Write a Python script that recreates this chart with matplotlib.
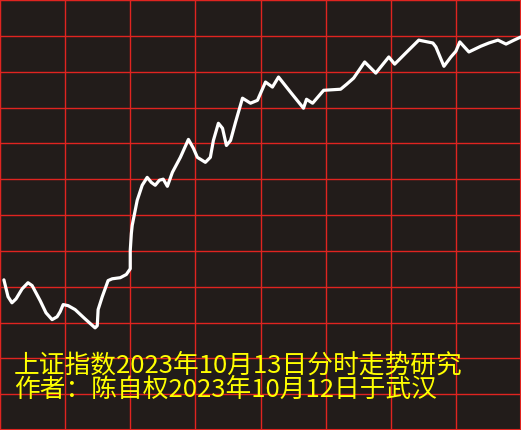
import matplotlib
matplotlib.use("Agg")
import matplotlib.pyplot as plt
import numpy as np

# 分时走势 (预测): 分钟 0..240, 纵轴以网格行为单位 (0..12)
minutes = [1.8, 3.7, 5.5, 7.4, 10.2, 12.9, 14.8, 18.5, 21.2, 24.0, 26.3, 27.7,
           29.1, 31.4, 34.6, 39.2, 43.8, 44.8, 45.2, 47.1, 49.8, 51.7, 55.4,
           58.2, 60.0, 60.0, 60.5, 60.9, 63.2, 65.5, 67.8, 69.7, 71.5, 73.4,
           75.2, 77.1, 79.4, 83.1, 86.8, 89.1, 90.9, 94.6, 96.9, 98.3, 100.6,
           102.5, 104.3, 106.2, 108.5, 111.7, 115.4, 118.6, 122.3, 125.5,
           128.3, 133.8, 139.8, 141.2, 144.0, 149.1, 156.9, 159.7, 162.9,
           168.0, 173.1, 179.1, 181.8, 186.9, 192.9, 199.4, 200.8, 204.5,
           207.7, 210.0, 211.8, 216.0, 221.5, 225.2, 229.4, 233.1, 236.8, 240.0]
levels = [4.19, 3.72, 3.55, 3.66, 3.94, 4.11, 4.03, 3.61, 3.27, 3.08, 3.16,
          3.30, 3.50, 3.47, 3.36, 3.10, 2.85, 2.91, 3.36, 3.72, 4.17, 4.22,
          4.25, 4.34, 4.50, 5.01, 5.48, 5.71, 6.41, 6.83, 7.05, 6.91, 6.83,
          6.97, 7.00, 6.80, 7.19, 7.61, 8.11, 7.86, 7.61, 7.47, 7.61, 8.08,
          8.56, 8.42, 7.94, 8.08, 8.59, 9.26, 9.12, 9.20, 9.71, 9.57, 9.85,
          9.43, 8.98, 9.23, 9.12, 9.48, 9.51, 9.65, 9.82, 10.27, 9.96, 10.41,
          10.21, 10.52, 10.88, 10.80, 10.69, 10.15, 10.41, 10.57, 10.83,
          10.55, 10.71, 10.80, 10.88, 10.77, 10.88, 10.97]

title_lines = ["上证指数2023年10月13日分时走势研究",
               "作者：陈自权2023年10月12日于武汉"]

bg = "#221c1a"
red = "#e02420"

fig = plt.figure(figsize=(5.21, 4.30), dpi=100, facecolor=bg)
ax = fig.add_axes([0, 0, 1, 1])
ax.set_facecolor(bg)

ax.set_xlim(0, 240)
ax.set_ylim(0, 12)
ax.set_xticks(np.arange(0, 241, 30))
ax.set_yticks(np.arange(0, 13, 1))
ax.grid(True, color=red, linewidth=1.0)
ax.tick_params(length=0, labelbottom=False, labelleft=False)
for s in ax.spines.values():
    s.set_color(red)
    s.set_linewidth(1.5)

ax.plot(minutes, levels, color="white", linewidth=2.3, solid_capstyle="round",
        solid_joinstyle="round", zorder=3)

for i, t in enumerate(title_lines):
    ax.text(14 / 521, 1 - (366 + 24 * i) / 430, t, transform=ax.transAxes,
            color="#ffff00", fontsize=18.5, va="center", ha="left",
            family=["Noto Sans CJK SC", "DejaVu Sans"], zorder=4)

fig.savefig("out.png", dpi=100, facecolor=bg)
